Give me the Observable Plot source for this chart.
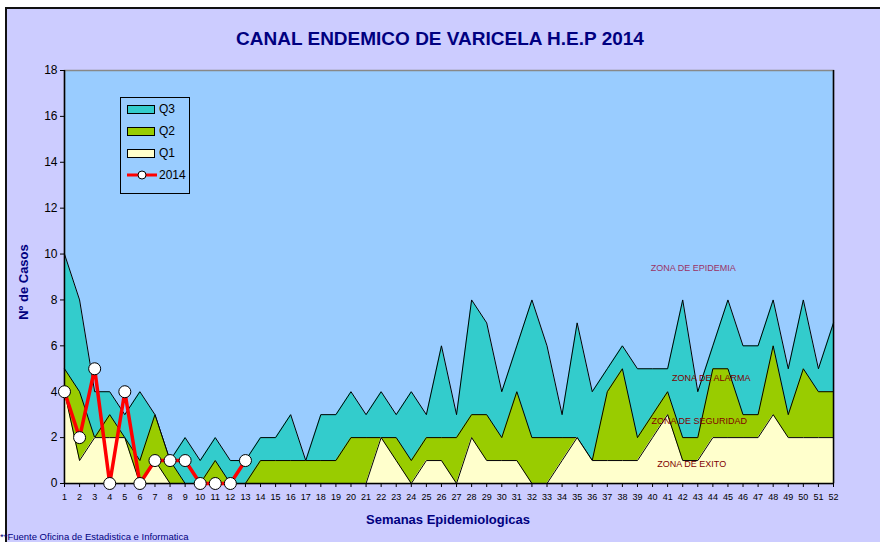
<!DOCTYPE html>
<html>
<head>
<meta charset="utf-8">
<script src="https://cdn.jsdelivr.net/npm/d3@7"></script>
<script src="https://cdn.jsdelivr.net/npm/@observablehq/plot@0.6"></script>
<style>
  html, body { margin: 0; padding: 0; background: #ffffff; }
  #wrap { position: relative; width: 880px; height: 542px; overflow: hidden; background: #ffffff; }
  #bg { position: absolute; left: 5px; top: 7px; width: 900px; height: 600px; background: #ccccff; border-left: 2px solid #111; border-top: 2px solid #111; }
  #chart { position: absolute; left: 0; top: 0; }
  .t { position: absolute; font-family: "Liberation Sans", Arial, sans-serif; color: #000080; white-space: nowrap; }
  #title { left: 0; width: 880px; top: 28px; text-align: center; font-size: 19px; font-weight: bold; }
  #ylab { left: 23px; top: 282px; font-size: 13px; font-weight: bold; transform: translate(-50%, -50%) rotate(-90deg); }
  #xlab { left: 448px; top: 512px; transform: translateX(-50%); font-size: 13px; font-weight: bold; }
  #foot { left: 0px; top: 531px; font-size: 9.5px; }
  #legend { position: absolute; left: 120px; top: 97px; width: 68px; height: 95px; border: 1px solid #000; background: #99ccff; font-family: "Liberation Sans", Arial, sans-serif; font-size: 12px; }
  .li { position: absolute; left: 6px; height: 14px; display: flex; align-items: center; }
  .sw { width: 26px; height: 7px; border: 1px solid #000; margin-right: 4px; }
</style>
</head>
<body>
<div id="wrap">
  <div id="bg"></div>
  <div id="chart"></div>
  <div class="t" id="title">CANAL ENDEMICO DE VARICELA H.E.P 2014</div>
  <div class="t" id="ylab">Nº de Casos</div>
  <div class="t" id="xlab">Semanas Epidemiologicas</div>
  <div class="t" id="foot">**Fuente Oficina de Estadistica e Informatica</div>
  <div id="legend">
    <div class="li" style="top:4px"><div class="sw" style="background:#33cccc"></div>Q3</div>
    <div class="li" style="top:26px"><div class="sw" style="background:#99cc00"></div>Q2</div>
    <div class="li" style="top:48px"><div class="sw" style="background:#ffffcc"></div>Q1</div>
    <div class="li" style="top:70px"><svg width="30" height="12" style="margin-right:2px"><line x1="0" y1="6" x2="30" y2="6" stroke="#ff0000" stroke-width="3"/><circle cx="15" cy="6" r="4" fill="#fff" stroke="#000"/></svg>2014</div>
  </div>
</div>
<script>
const weeks = d3.range(1, 53);
const q3 = [10,8,4,4,3,4,3,1,2,1,2,1,1,2,2,3,1,3,3,4,3,4,3,4,3,6,3,8,7,4,6,8,6,3,7,4,5,6,5,5,5,8,4,6,8,6,6,8,5,8,5,7];
const q2 = [5,4,2,3,2,1,3,1,0,0,1,0,0,1,1,1,1,1,1,2,2,2,2,1,2,2,2,3,3,2,4,2,2,2,2,1,4,5,2,3,4,2,2,5,5,3,3,6,3,5,4,4];
const q1 = [4,1,2,2,2,0,1,0,0,0,0,0,0,0,0,0,0,0,0,0,0,2,1,0,1,1,0,2,1,1,1,0,0,1,2,1,1,1,1,2,3,1,1,2,2,2,2,3,2,2,2,2];
const weeks2014 = [1,2,3,4,5,6,7,8,9,10,11,12,13];
const cases2014 = [4,2,5,0,4,0,1,1,1,0,0,0,1];
const yTicks = [0,2,4,6,8,10,12,14,16,18];
const zones = [
  {label: "ZONA DE EPIDEMIA", x: 42.7, y: 9.37, color: "#993366"},
  {label: "ZONA DE ALARMA", x: 43.9, y: 4.58, color: "#800000"},
  {label: "ZONA DE SEGURIDAD", x: 43.1, y: 2.7, color: "#800000"},
  {label: "ZONA DE EXITO", x: 42.6, y: 0.83, color: "#800000"}
];

const rows = weeks.map((w, i) => ({w, q1: q1[i], q2: q2[i], q3: q3[i]}));
const obs = weeks2014.map((w, i) => ({w, v: cases2014[i]}));

const chart = Plot.plot({
  width: 880,
  height: 542,
  marginLeft: 64,
  marginRight: 47,
  marginTop: 70,
  marginBottom: 59,
  style: {background: "transparent", fontFamily: "Liberation Sans, Arial, sans-serif"},
  x: {domain: [1, 52], label: null},
  y: {domain: [0, 18], label: null},
  marks: [
    Plot.frame({fill: "#99ccff", stroke: "#888", strokeWidth: 1.5}),
    Plot.areaY(rows, {x: "w", y: "q3", fill: "#33cccc"}),
    Plot.lineY(rows, {x: "w", y: "q3", stroke: "#000", strokeWidth: 1}),
    Plot.areaY(rows, {x: "w", y: "q2", fill: "#99cc00"}),
    Plot.lineY(rows, {x: "w", y: "q2", stroke: "#000", strokeWidth: 1}),
    Plot.areaY(rows, {x: "w", y: "q1", fill: "#ffffcc"}),
    Plot.lineY(rows, {x: "w", y: "q1", stroke: "#000", strokeWidth: 1}),
    Plot.text(zones, {x: "x", y: "y", text: "label", fill: "color", fontSize: 9}),
    Plot.ruleX([52], {stroke: "#000", strokeWidth: 1.5}),
    Plot.ruleY([0], {stroke: "#000", strokeWidth: 1.5}),
    Plot.ruleX([1], {stroke: "#000", strokeWidth: 1.5}),
    Plot.axisY({ticks: yTicks, tickSize: 4, tickPadding: 3, fontSize: 12, fill: "#000", label: null}),
    Plot.axisX({ticks: weeks, tickSize: 4, tickPadding: 6, fontSize: 9, fill: "#000", label: null, tickFormat: d => String(d)}),
    Plot.line(obs, {x: "w", y: "v", stroke: "#ff0000", strokeWidth: 3.5}),
    Plot.dot(obs, {x: "w", y: "v", r: 6, fill: "#fff", stroke: "#000", strokeWidth: 1})
  ]
});
document.getElementById("chart").appendChild(chart);
</script>
</body>
</html>
